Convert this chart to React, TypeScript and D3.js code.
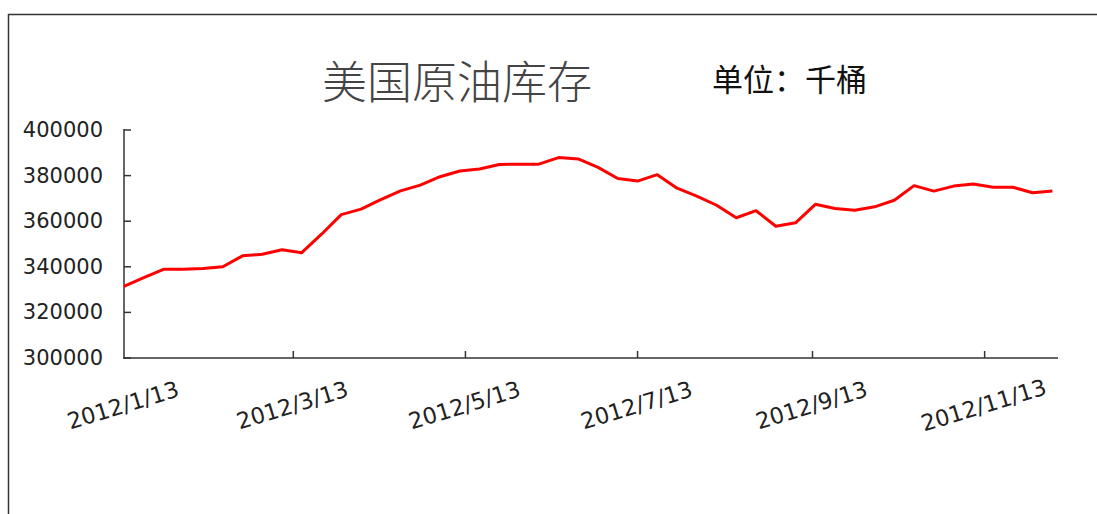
import React from "react";
import * as d3 from "d3";

const dates: string[] = [
  "2012-01-13", "2012-01-20", "2012-01-27", "2012-02-03", "2012-02-10", "2012-02-17",
  "2012-02-24", "2012-03-02", "2012-03-09", "2012-03-16", "2012-03-23", "2012-03-30",
  "2012-04-06", "2012-04-13", "2012-04-20", "2012-04-27", "2012-05-04", "2012-05-11",
  "2012-05-18", "2012-05-25", "2012-06-01", "2012-06-08", "2012-06-15", "2012-06-22",
  "2012-06-29", "2012-07-06", "2012-07-13", "2012-07-20", "2012-07-27", "2012-08-03",
  "2012-08-10", "2012-08-17", "2012-08-24", "2012-08-31", "2012-09-07", "2012-09-14",
  "2012-09-21", "2012-09-28", "2012-10-05", "2012-10-12", "2012-10-19", "2012-10-26",
  "2012-11-02", "2012-11-09", "2012-11-16", "2012-11-23", "2012-11-30", "2012-12-07",
];

const stocks: number[] = [
  331400, 335200, 338900, 338900, 339300, 340000,
  344800, 345500, 347500, 346200, 354300, 362900,
  365300, 369500, 373300, 375800, 379500, 382000,
  382900, 384900, 385000, 385000, 387900, 387300,
  383600, 378700, 377600, 380400, 374500, 371000,
  367000, 361500, 364600, 357800, 359300, 367400,
  365600, 364800, 366300, 369200, 375600, 373200,
  375400, 376300, 374900, 374900, 372500, 373200,
];

const xTickDates: string[] = ["2012-01-13", "2012-03-13", "2012-05-13", "2012-07-13", "2012-09-13", "2012-11-13"];
const xTickLabels: string[] = ["2012/1/13", "2012/3/13", "2012/5/13", "2012/7/13", "2012/9/13", "2012/11/13"];
const yTicks: number[] = [300000, 320000, 340000, 360000, 380000, 400000];
const xDomain: string[] = ["2012-01-13", "2012-12-09"];

const title = "美国原油库存";
const unit = "单位：千桶";

const W = 1097;
const H = 514;

export default function App() {
  const parse = (s: string) => {
    const [y, m, d] = s.split("-").map(Number);
    return new Date(y, m - 1, d);
  };
  const x = d3.scaleTime().domain(xDomain.map(parse)).range([124, 1058]);
  const y = d3.scaleLinear().domain([300000, 400000]).range([358, 130]);
  const pts: [number, number][] = dates.map((d, i) => [x(parse(d)), y(stocks[i])]);
  const line = d3.line<[number, number]>().x((p) => p[0]).y((p) => p[1]);
  const axisColor = "#333";

  return (
    <div style={{ position: "absolute", left: 0, top: 0 }}>
      <svg width={W} height={H} style={{ display: "block", background: "#fff" }}>
        <rect x={8.5} y={14.5} width={W + 20} height={H + 20} fill="none" stroke="#333" strokeWidth={1.5} />
        <text x={322} y={99} fontFamily="'Noto Sans CJK SC'" fontSize={45} fontWeight={300} fill="#444">{title}</text>
        <text x={712} y={91} fontFamily="'Noto Sans CJK SC'" fontSize={31} fill="#111">{unit}</text>

        {yTicks.map((t) => (
          <g key={t}>
            <line x1={124} x2={131} y1={y(t)} y2={y(t)} stroke={axisColor} strokeWidth={1.5} />
            <text x={103} y={y(t)} textAnchor="end" dominantBaseline="central" fontFamily="'DejaVu Sans'" fontSize={21} fill="#222">{t}</text>
          </g>
        ))}
        {xTickDates.map((d, i) => {
          const tx = x(parse(d));
          return (
            <g key={d}>
              {i > 0 && <line x1={tx} x2={tx} y1={358} y2={351} stroke={axisColor} strokeWidth={1.5} />}
              <text
                transform={`translate(${tx - 1},${405}) rotate(-17)`}
                textAnchor="middle"
                dominantBaseline="central"
                fontFamily="'DejaVu Sans'"
                fontSize={22.5}
                fill="#222"
              >
                {xTickLabels[i]}
              </text>
            </g>
          );
        })}
        <line x1={124} x2={124} y1={129} y2={358.75} stroke={axisColor} strokeWidth={1.5} />
        <line x1={123.25} x2={1058} y1={358} y2={358} stroke={axisColor} strokeWidth={1.5} />

        <path d={line(pts) || ""} fill="none" stroke="#ff0000" strokeWidth={3} strokeLinejoin="round" />
      </svg>
    </div>
  );
}
